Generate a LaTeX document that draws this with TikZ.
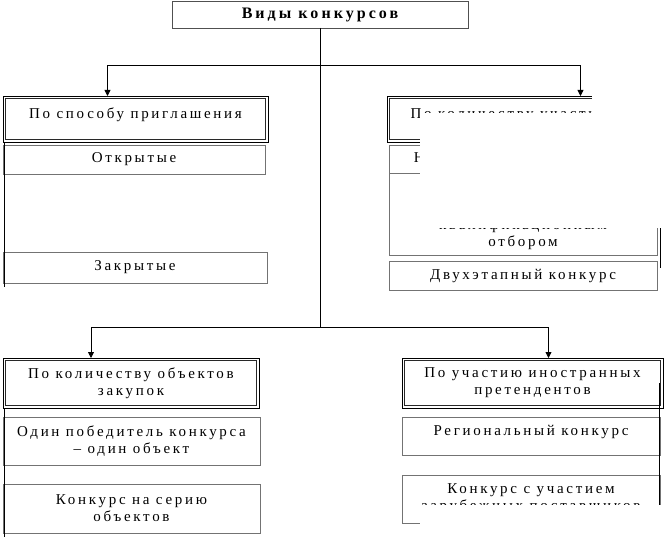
\documentclass[tikz,border=0pt]{standalone}
\usepackage{fontspec}
\setmainfont{Liberation Serif}
\newfontfamily\boxfont[LetterSpace=18]{Liberation Serif}
\newfontfamily\headfont[LetterSpace=19]{Liberation Serif}
\usetikzlibrary{arrows.meta}
\tikzset{every picture/.style={line width=0.75pt}}
\tikzset{
  box/.style={draw={rgb, 255:red, 115; green, 115; blue, 115}, line width=0.9pt, inner sep=0pt, outer sep=0pt,
    anchor=north west, align=center, font=\boxfont\fontsize{15}{17}\selectfont},
  head/.style={box, draw=black, line width=0.9pt},
  frame/.style={draw={rgb, 255:red, 40; green, 40; blue, 40}, line width=0.9pt},
  titlebox/.style={box, draw={rgb, 255:red, 80; green, 80; blue, 80}, font=\headfont\bfseries\fontsize{16}{18}\selectfont},
  txt/.style={inner sep=0pt, outer sep=0pt, align=center, font=\boxfont\fontsize{15}{17}\selectfont},
  link/.style={draw=black, line width=0.8pt},
  arr/.style={link, -{Triangle[width=6pt,length=6pt]}},
  patch/.style={fill=white},
}

\begin{document}
\begin{tikzpicture}[x=1pt,y=1pt,yscale=-1,xscale=1]
		\fill[white] (0,0) rectangle (668,540);
		\useasboundingbox (0,0) rectangle (668,540);
		
		%Title
		\node[titlebox, minimum width=296, minimum height=27] (kinds) at (172,1) {Виды конкурсов};
		
		%Left column, top
		\node[head, minimum width=265, minimum height=46] (inv) at (3,96) {По способу приглашения\\[-10pt]\strut};
		\node[box, minimum width=262, minimum height=29] (open) at (3,145) {Открытые};
		\node[box, minimum width=264, minimum height=31] (closed) at (3,252) {Закрытые};
		
		%Right column, top
		\node[head, minimum width=273, minimum height=46] (parts) at (387,96) {По количеству участников\\[-12pt]\strut};
		\node[box, minimum width=268, minimum height=28] (unlim) at (389,145) {Неограниченный конкурс};
		\node[box, minimum width=268, minimum height=82] (prequal) at (389,173) {};
		\node[txt, anchor=south] (prequal-t) at ([yshift=-5]prequal.south) {Конкурс с\\предварительным\\квалификационным\\отбором};
		\node[box, minimum width=268, minimum height=29] (twostage) at (389,261) {Двухэтапный конкурс};
		
		%Left column, bottom
		\node[head, minimum width=256, minimum height=50] (objs) at (3,358) {По количеству объектов\\закупок};
		\node[box, minimum width=257, minimum height=48] (one) at (3,417) {Один победитель конкурса\\– один объект};
		\node[box, minimum width=257, minimum height=49] (series) at (3,484) {Конкурс на серию\\объектов};
		
		%Right column, bottom
		\node[head, minimum width=261, minimum height=50] (foreign) at (402,358) {По участию иностранных\\претендентов};
		\node[box, minimum width=258, minimum height=38] (regional) at (402,417) {Региональный конкурс\\[-10pt]\strut};
		\node[box, minimum width=258, minimum height=48] (withforeign) at (402,475) {Конкурс с участием\\зарубежных поставщиков};
		
		%inner frames of the group headers
		\foreach \n in {inv,parts,objs,foreign}
		\draw[frame] ([shift={(2.2,2.2)}]\n.north west) rectangle ([shift={(-2.2,-2.2)}]\n.south east);
		
		%Connectors
		\coordinate (jt) at (320,65);
		\coordinate (jb) at (320,327);
		\draw[link] (kinds) -- (jb);
		\draw[arr] (jt) -| ([xshift=-28]inv.north);
		\draw[arr] (jt) -| ([xshift=57]parts.north);
		\draw[arr] (jb) -| ([xshift=-40]objs.north);
		\draw[arr] (jb) -| ([xshift=16]foreign.north);
		
		\draw[link] ([xshift=1]inv.south west) -- ([xshift=1,yshift=4]closed.south west);
		\draw[link] ([xshift=1]objs.south west) -- ([xshift=1,yshift=4]series.south west);
		\draw[link] ([xshift=3]prequal.north east) -- ([xshift=3,yshift=7]twostage.north east);
		\draw[link] ([xshift=-4]foreign.east) -- ([xshift=-1]withforeign.south east);
		
		%White patches over the right column
		\fill[patch] (420,113) rectangle (668,228);
		\fill[patch] (592,86) rectangle (668,228);
		\fill[patch] (420,505) rectangle (668,540);
		
\end{tikzpicture}
\end{document}
